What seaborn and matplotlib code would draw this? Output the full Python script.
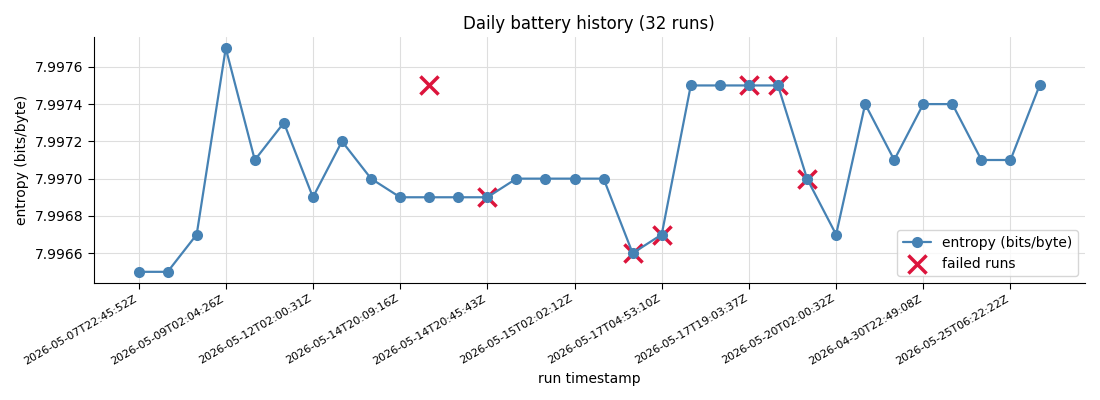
import numpy as np
import pandas as pd
import matplotlib.pyplot as plt
import seaborn as sns

# entropy per run (bits/byte), in run order
entropy = [7.99650, 7.99650, 7.99670, 7.99770, 7.99710, 7.99730, 7.99690, 7.99720,
           7.99700, 7.99690, 7.99690, 7.99690, 7.99690, 7.99700, 7.99700, 7.99700,
           7.99700, 7.99660, 7.99670, 7.99750, 7.99750, 7.99750, 7.99750, 7.99700,
           7.99670, 7.99740, 7.99710, 7.99740, 7.99740, 7.99710, 7.99710, 7.99750]

# failed runs: run index and recorded entropy
failed_idx = [10, 12, 17, 18, 21, 22, 23]
failed_val = [7.99750, 7.99690, 7.99660, 7.99670, 7.99750, 7.99750, 7.99700]

# every third run is labelled
tick_idx = [0, 3, 6, 9, 12, 15, 18, 21, 24, 27, 30]
tick_labels = ['2026-05-07T22:45:52Z', '2026-05-09T02:04:26Z', '2026-05-12T02:00:31Z',
               '2026-05-14T20:09:16Z', '2026-05-14T20:45:43Z', '2026-05-15T02:02:12Z',
               '2026-05-17T04:53:10Z', '2026-05-17T19:03:37Z', '2026-05-20T02:00:32Z',
               '2026-04-30T22:49:08Z', '2026-05-25T06:22:22Z']

df = pd.DataFrame({'run': np.arange(len(entropy)), 'entropy': entropy})
fails = pd.DataFrame({'run': failed_idx, 'entropy': failed_val})

sns.set_style("whitegrid", {'grid.color': '#dedede', 'axes.edgecolor': 'black',
                            'text.color': 'black', 'axes.labelcolor': 'black',
                            'xtick.color': 'black', 'ytick.color': 'black'})
plt.rcParams['font.family'] = ['DejaVu Sans']

fig, ax = plt.subplots(figsize=(11, 4), dpi=100)
fig.subplots_adjust(left=0.085, right=0.986, top=0.9075, bottom=0.2925)

ax.scatter(fails['run'], fails['entropy'], marker='x', s=170, linewidths=2.5,
           color='crimson', zorder=2, label='failed runs')
sns.lineplot(data=df, x='run', y='entropy', ax=ax, color='steelblue', marker='o',
             markersize=8, markeredgewidth=0, linewidth=1.6, zorder=3,
             label='entropy (bits/byte)')

ax.set_xticks(tick_idx)
ax.set_xticklabels(tick_labels, rotation=30, ha='right', fontsize=8)
ax.yaxis.set_major_formatter(plt.FormatStrFormatter('%.4f'))
ax.tick_params(axis='both', length=4, color='black', bottom=True, left=True)
ax.tick_params(axis='y', labelsize=10)

ax.set_title('Daily battery history (32 runs)', fontsize=12)
ax.set_xlabel('run timestamp', fontsize=10)
ax.set_ylabel('entropy (bits/byte)', fontsize=10)

handles, labels = ax.get_legend_handles_labels()
order = [labels.index('entropy (bits/byte)'), labels.index('failed runs')]
ax.legend([handles[i] for i in order], [labels[i] for i in order], loc='lower right')
sns.despine(ax=ax)

plt.savefig('out.png')
